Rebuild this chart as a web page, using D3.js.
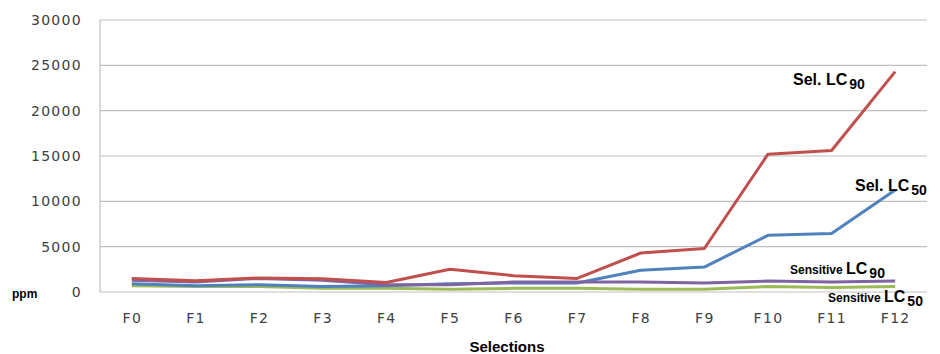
<!DOCTYPE html>
<html><head><meta charset="utf-8">
<script src="https://cdn.jsdelivr.net/npm/d3@7"></script>
<style>body{margin:0;background:#fff}</style>
</head><body><svg id="c" width="940" height="354"></svg>
<script>
const categories = ["F0","F1","F2","F3","F4","F5","F6","F7","F8","F9","F10","F11","F12"];
const selLC90 = [1500,1250,1550,1450,1050,2500,1800,1500,4300,4800,15200,15600,24300];
const selLC50 = [900,700,800,600,700,900,1000,1000,2400,2750,6250,6450,11250];
const sensLC90 = [1300,1100,1500,1300,800,800,1100,1100,1100,1000,1200,1100,1200];
const sensLC50 = [700,600,600,400,400,300,400,400,300,300,600,500,600];
const yTicks = [0,5000,10000,15000,20000,25000,30000];

const series = [
  {name:"selLC90", values:selLC90, color:"#C0504D"},
  {name:"selLC50", values:selLC50, color:"#4F81BD"},
  {name:"sensLC90", values:sensLC90, color:"#8064A2"},
  {name:"sensLC50", values:sensLC50, color:"#9BBB59"}
];

const svg = d3.select("#c");
const L=100, R=927, T=20, B=292;
const x = d3.scalePoint().domain(categories).range([L,R]).padding(0.5);
const y = d3.scaleLinear().domain([0,30000]).range([B,T]);

svg.append("g").selectAll("line").data(yTicks).join("line")
  .attr("x1",L).attr("x2",R).attr("y1",d=>y(d)).attr("y2",d=>y(d))
  .attr("stroke","#c0c0c0").attr("stroke-width",1.2);
svg.append("line").attr("x1",L).attr("x2",L).attr("y1",T).attr("y2",B)
  .attr("stroke","#c0c0c0").attr("stroke-width",1.2);

const yAxis = d3.axisLeft(y).tickValues(yTicks).tickSize(0).tickPadding(18).tickFormat(d=>String(d));
const gy = svg.append("g").attr("transform",`translate(${L},0)`).call(yAxis);
gy.select(".domain").remove();
gy.selectAll("text").attr("font-family","DejaVu Sans").attr("font-size",14).attr("letter-spacing","1.3px").attr("fill","#404040");

const xAxis = d3.axisBottom(x).tickSize(0).tickPadding(21);
const gx = svg.append("g").attr("transform",`translate(0,${B})`).call(xAxis);
gx.select(".domain").remove();
gx.selectAll("text").attr("font-family","DejaVu Sans").attr("font-size",14).attr("letter-spacing","1.3px").attr("fill","#404040");

const line = d3.line().x((d,i)=>x(categories[i])).y(d=>y(d));
const order = [series[3], series[1], series[2], series[0]];
svg.append("g").selectAll("path").data(order).join("path")
  .attr("d",d=>line(d.values)).attr("fill","none")
  .attr("stroke",d=>d.color).attr("stroke-width",3).attr("stroke-linejoin","round");

function lab(xp, yp, main, sub, mainSize, lcSize, subSize, prefix){
  const t = svg.append("text").attr("x",xp).attr("y",yp)
    .attr("font-family","Liberation Sans, Arial").attr("font-weight","bold").attr("fill","#000");
  if(prefix){ t.append("tspan").attr("font-size",mainSize).text(prefix); }
  t.append("tspan").attr("font-size",lcSize).text(main);
  t.append("tspan").attr("font-size",subSize).attr("dx",2).attr("dy",4).text(sub);
}
lab(793, 85, "Sel. LC", "90", 15, 16, 14, null);
lab(855, 191, "Sel. LC", "50", 15, 16, 14, null);
lab(790, 274, "LC", "90", 12, 16, 14, "Sensitive ");
lab(828, 302, "LC", "50", 12, 16, 14, "Sensitive ");

svg.append("text").attr("x",12).attr("y",298).attr("font-family","Liberation Sans, Arial")
  .attr("font-weight","bold").attr("font-size",12).text("ppm");
svg.append("text").attr("x",507).attr("y",352).attr("text-anchor","middle").attr("font-family","Liberation Sans, Arial")
  .attr("font-weight","bold").attr("font-size",15).text("Selections");
</script></body></html>
